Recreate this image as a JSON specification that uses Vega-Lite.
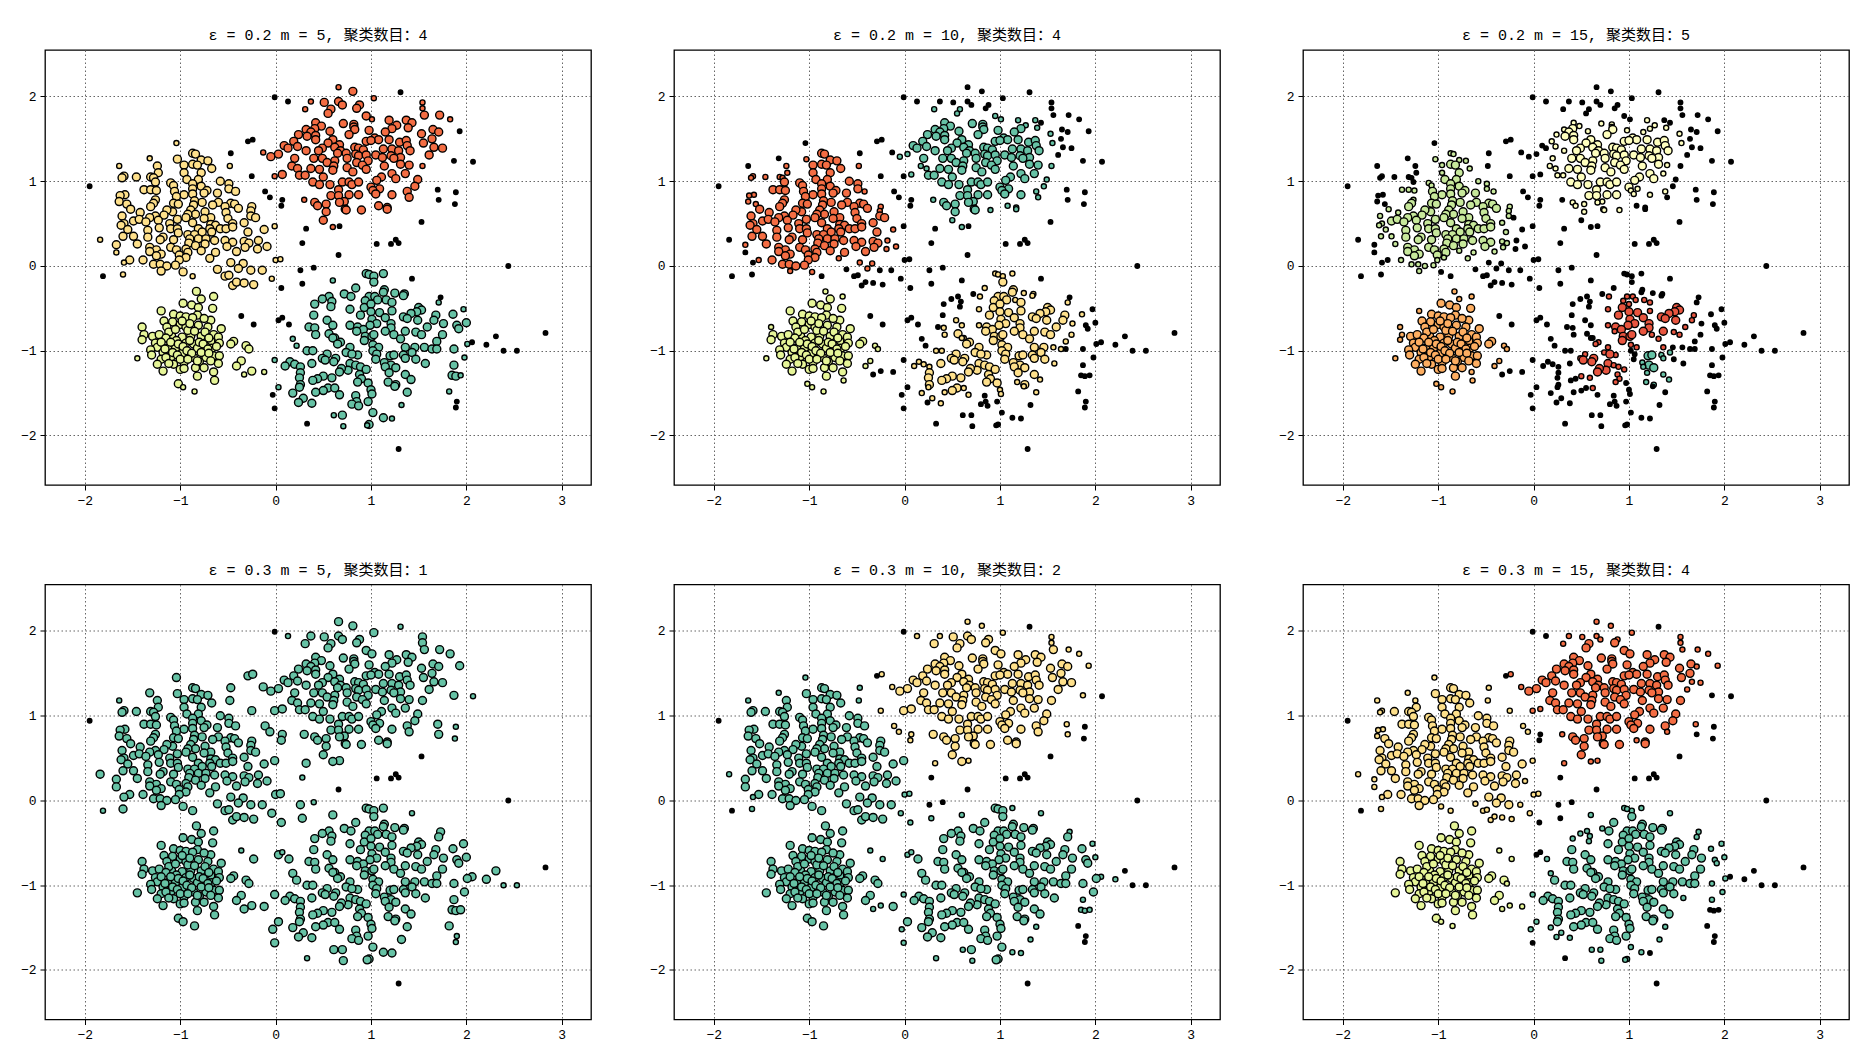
{"$schema":"https://vega.github.io/schema/vega-lite/v6.json","padding":{"left":19,"top":27,"right":0,"bottom":0},"background":"white","config":{"view":{"stroke":"black","strokeWidth":1.3},"axis":{"grid":true,"gridColor":"#666","gridDash":[1.5,2.5],"gridWidth":1,"domain":false,"tickColor":"black","tickSize":5,"labelFont":"Liberation Mono","labelFontSize":13,"labelColor":"black","title":null,"zindex":1,"labelPadding":4},"title":{"font":"Liberation Mono, Noto Sans CJK SC","fontSize":15,"fontWeight":"normal","color":"black","offset":7},"point":{"filled":true,"stroke":"black","strokeWidth":1.4,"opacity":1}},
"datasets":{"pts":[
{"x":-1.04,"y":1.45,"a":"y","b":"k","c":"k","d":"T","e":"t","f":"y"},
{"x":-0.87,"y":1.33,"a":"Y","b":"R","c":"l","d":"T","e":"T","f":"Y"},
{"x":-0.84,"y":1.32,"a":"Y","b":"R","c":"l","d":"T","e":"T","f":"Y"},
{"x":-1.32,"y":1.27,"a":"y","b":"k","c":"k","d":"T","e":"t","f":"y"},
{"x":-1.03,"y":1.26,"a":"Y","b":"r","c":"l","d":"T","e":"T","f":"Y"},
{"x":-0.78,"y":1.25,"a":"Y","b":"R","c":"l","d":"T","e":"T","f":"Y"},
{"x":-0.71,"y":1.24,"a":"Y","b":"R","c":"l","d":"T","e":"T","f":"Y"},
{"x":-1.64,"y":1.18,"a":"y","b":"k","c":"k","d":"t","e":"t","f":"y"},
{"x":-1.24,"y":1.18,"a":"Y","b":"r","c":"k","d":"T","e":"T","f":"y"},
{"x":-0.96,"y":1.19,"a":"Y","b":"R","c":"l","d":"T","e":"T","f":"Y"},
{"x":-0.87,"y":1.2,"a":"Y","b":"R","c":"L","d":"T","e":"T","f":"Y"},
{"x":-0.82,"y":1.19,"a":"Y","b":"R","c":"L","d":"T","e":"T","f":"Y"},
{"x":-0.67,"y":1.15,"a":"Y","b":"R","c":"l","d":"T","e":"T","f":"Y"},
{"x":-0.48,"y":1.18,"a":"y","b":"r","c":"k","d":"T","e":"t","f":"y"},
{"x":-1.23,"y":1.1,"a":"Y","b":"r","c":"k","d":"T","e":"T","f":"Y"},
{"x":-0.96,"y":1.1,"a":"Y","b":"R","c":"l","d":"T","e":"T","f":"Y"},
{"x":-0.78,"y":1.1,"a":"Y","b":"R","c":"L","d":"T","e":"T","f":"Y"},
{"x":-1.59,"y":1.06,"a":"Y","b":"r","c":"k","d":"T","e":"T","f":"y"},
{"x":-1.61,"y":1.04,"a":"Y","b":"r","c":"k","d":"T","e":"T","f":"y"},
{"x":-1.46,"y":1.05,"a":"Y","b":"r","c":"k","d":"T","e":"T","f":"Y"},
{"x":-1.31,"y":1.05,"a":"Y","b":"r","c":"k","d":"T","e":"T","f":"Y"},
{"x":-1.28,"y":1.04,"a":"Y","b":"r","c":"k","d":"T","e":"T","f":"Y"},
{"x":-0.93,"y":1.02,"a":"Y","b":"R","c":"L","d":"T","e":"T","f":"Y"},
{"x":-0.81,"y":1.02,"a":"Y","b":"R","c":"L","d":"T","e":"T","f":"Y"},
{"x":-0.58,"y":1.0,"a":"Y","b":"R","c":"l","d":"T","e":"T","f":"Y"},
{"x":-1.26,"y":0.99,"a":"Y","b":"R","c":"k","d":"T","e":"T","f":"Y"},
{"x":-1.1,"y":0.98,"a":"Y","b":"R","c":"l","d":"T","e":"T","f":"Y"},
{"x":-0.87,"y":0.97,"a":"Y","b":"R","c":"L","d":"T","e":"T","f":"Y"},
{"x":-0.49,"y":0.97,"a":"Y","b":"R","c":"l","d":"T","e":"T","f":"Y"},
{"x":-1.07,"y":0.95,"a":"Y","b":"R","c":"l","d":"T","e":"T","f":"Y"},
{"x":-0.78,"y":0.94,"a":"Y","b":"R","c":"L","d":"T","e":"T","f":"Y"},
{"x":-0.49,"y":0.91,"a":"Y","b":"R","c":"l","d":"T","e":"T","f":"Y"},
{"x":-1.38,"y":0.9,"a":"Y","b":"R","c":"l","d":"T","e":"T","f":"Y"},
{"x":-1.31,"y":0.9,"a":"Y","b":"R","c":"l","d":"T","e":"T","f":"Y"},
{"x":-1.25,"y":0.89,"a":"Y","b":"R","c":"l","d":"T","e":"T","f":"Y"},
{"x":-1.06,"y":0.88,"a":"Y","b":"R","c":"L","d":"T","e":"T","f":"Y"},
{"x":-0.87,"y":0.91,"a":"Y","b":"R","c":"L","d":"T","e":"T","f":"Y"},
{"x":-0.72,"y":0.89,"a":"Y","b":"R","c":"L","d":"T","e":"T","f":"Y"},
{"x":-0.42,"y":0.88,"a":"Y","b":"r","c":"l","d":"T","e":"T","f":"Y"},
{"x":-0.75,"y":0.86,"a":"Y","b":"R","c":"L","d":"T","e":"T","f":"Y"},
{"x":-0.87,"y":0.85,"a":"Y","b":"R","c":"L","d":"T","e":"T","f":"Y"},
{"x":-0.61,"y":0.86,"a":"Y","b":"R","c":"L","d":"T","e":"T","f":"Y"},
{"x":-1.58,"y":0.84,"a":"Y","b":"r","c":"k","d":"T","e":"T","f":"y"},
{"x":-1.63,"y":0.83,"a":"Y","b":"r","c":"k","d":"T","e":"T","f":"y"},
{"x":-0.96,"y":0.84,"a":"Y","b":"R","c":"L","d":"T","e":"T","f":"Y"},
{"x":-1.04,"y":0.82,"a":"Y","b":"R","c":"L","d":"T","e":"T","f":"Y"},
{"x":-1.64,"y":0.76,"a":"Y","b":"r","c":"k","d":"T","e":"T","f":"y"},
{"x":-1.26,"y":0.78,"a":"Y","b":"R","c":"l","d":"T","e":"T","f":"Y"},
{"x":-1.28,"y":0.74,"a":"Y","b":"R","c":"L","d":"T","e":"T","f":"Y"},
{"x":-1.56,"y":0.73,"a":"Y","b":"r","c":"k","d":"T","e":"T","f":"Y"},
{"x":-1.07,"y":0.74,"a":"Y","b":"R","c":"L","d":"T","e":"T","f":"Y"},
{"x":-1.02,"y":0.73,"a":"Y","b":"R","c":"L","d":"T","e":"T","f":"Y"},
{"x":-0.85,"y":0.77,"a":"Y","b":"R","c":"L","d":"T","e":"T","f":"Y"},
{"x":-0.77,"y":0.75,"a":"Y","b":"R","c":"L","d":"T","e":"T","f":"Y"},
{"x":-0.6,"y":0.75,"a":"Y","b":"R","c":"L","d":"T","e":"T","f":"Y"},
{"x":-0.47,"y":0.74,"a":"Y","b":"R","c":"L","d":"T","e":"T","f":"Y"},
{"x":-0.43,"y":0.73,"a":"Y","b":"R","c":"L","d":"T","e":"T","f":"Y"},
{"x":-0.86,"y":0.72,"a":"Y","b":"R","c":"L","d":"T","e":"T","f":"Y"},
{"x":-0.66,"y":0.72,"a":"Y","b":"R","c":"L","d":"T","e":"T","f":"Y"},
{"x":-1.31,"y":0.7,"a":"Y","b":"R","c":"L","d":"T","e":"T","f":"Y"},
{"x":-1.52,"y":0.67,"a":"Y","b":"R","c":"l","d":"T","e":"T","f":"Y"},
{"x":-0.53,"y":0.7,"a":"Y","b":"R","c":"L","d":"T","e":"T","f":"Y"},
{"x":-0.39,"y":0.68,"a":"Y","b":"R","c":"L","d":"T","e":"T","f":"Y"},
{"x":-0.25,"y":0.7,"a":"Y","b":"r","c":"l","d":"T","e":"T","f":"Y"},
{"x":-1.42,"y":0.63,"a":"Y","b":"R","c":"l","d":"T","e":"T","f":"Y"},
{"x":-1.08,"y":0.64,"a":"Y","b":"R","c":"L","d":"T","e":"T","f":"Y"},
{"x":-1.14,"y":0.66,"a":"Y","b":"R","c":"L","d":"T","e":"T","f":"Y"},
{"x":-0.89,"y":0.66,"a":"Y","b":"R","c":"L","d":"T","e":"T","f":"Y"},
{"x":-0.74,"y":0.64,"a":"Y","b":"R","c":"L","d":"T","e":"T","f":"Y"},
{"x":-0.26,"y":0.65,"a":"Y","b":"r","c":"l","d":"T","e":"T","f":"Y"},
{"x":-0.52,"y":0.63,"a":"Y","b":"R","c":"L","d":"T","e":"T","f":"Y"},
{"x":-1.61,"y":0.59,"a":"Y","b":"R","c":"l","d":"T","e":"T","f":"Y"},
{"x":-1.26,"y":0.59,"a":"Y","b":"R","c":"L","d":"T","e":"T","f":"Y"},
{"x":-1.17,"y":0.6,"a":"Y","b":"R","c":"L","d":"T","e":"T","f":"Y"},
{"x":-1.32,"y":0.57,"a":"Y","b":"R","c":"L","d":"T","e":"T","f":"Y"},
{"x":-0.84,"y":0.61,"a":"Y","b":"R","c":"L","d":"T","e":"T","f":"Y"},
{"x":-0.68,"y":0.57,"a":"Y","b":"R","c":"L","d":"T","e":"T","f":"Y"},
{"x":-0.92,"y":0.61,"a":"Y","b":"R","c":"L","d":"T","e":"T","f":"Y"},
{"x":-0.26,"y":0.59,"a":"Y","b":"R","c":"l","d":"T","e":"T","f":"Y"},
{"x":-0.21,"y":0.57,"a":"Y","b":"R","c":"k","d":"T","e":"T","f":"Y"},
{"x":-1.49,"y":0.53,"a":"Y","b":"R","c":"L","d":"T","e":"T","f":"Y"},
{"x":-1.43,"y":0.55,"a":"Y","b":"R","c":"L","d":"T","e":"T","f":"Y"},
{"x":-1.23,"y":0.54,"a":"Y","b":"R","c":"L","d":"T","e":"T","f":"Y"},
{"x":-1.03,"y":0.55,"a":"Y","b":"R","c":"L","d":"T","e":"T","f":"Y"},
{"x":-0.94,"y":0.57,"a":"Y","b":"R","c":"L","d":"T","e":"T","f":"Y"},
{"x":-0.75,"y":0.56,"a":"Y","b":"R","c":"L","d":"T","e":"T","f":"Y"},
{"x":-0.5,"y":0.56,"a":"Y","b":"R","c":"L","d":"T","e":"T","f":"Y"},
{"x":-1.36,"y":0.52,"a":"Y","b":"R","c":"L","d":"T","e":"T","f":"Y"},
{"x":-1.59,"y":0.5,"a":"Y","b":"R","c":"l","d":"T","e":"T","f":"Y"},
{"x":-1.62,"y":0.48,"a":"Y","b":"R","c":"l","d":"T","e":"T","f":"Y"},
{"x":-1.11,"y":0.5,"a":"Y","b":"R","c":"L","d":"T","e":"T","f":"Y"},
{"x":-0.87,"y":0.51,"a":"Y","b":"R","c":"L","d":"T","e":"T","f":"Y"},
{"x":-0.68,"y":0.49,"a":"Y","b":"R","c":"L","d":"T","e":"T","f":"Y"},
{"x":-0.45,"y":0.5,"a":"Y","b":"R","c":"L","d":"T","e":"T","f":"Y"},
{"x":-0.33,"y":0.51,"a":"Y","b":"R","c":"l","d":"T","e":"T","f":"Y"},
{"x":-0.63,"y":0.48,"a":"Y","b":"R","c":"L","d":"T","e":"T","f":"Y"},
{"x":-1.22,"y":0.45,"a":"Y","b":"R","c":"L","d":"T","e":"T","f":"Y"},
{"x":-1.1,"y":0.44,"a":"Y","b":"R","c":"L","d":"T","e":"T","f":"Y"},
{"x":-1.03,"y":0.44,"a":"Y","b":"R","c":"L","d":"T","e":"T","f":"Y"},
{"x":-0.81,"y":0.44,"a":"Y","b":"R","c":"L","d":"T","e":"T","f":"Y"},
{"x":-0.69,"y":0.44,"a":"Y","b":"R","c":"L","d":"T","e":"T","f":"Y"},
{"x":-0.58,"y":0.44,"a":"Y","b":"R","c":"L","d":"T","e":"T","f":"Y"},
{"x":-0.52,"y":0.44,"a":"Y","b":"R","c":"L","d":"T","e":"T","f":"Y"},
{"x":-0.45,"y":0.46,"a":"Y","b":"R","c":"L","d":"T","e":"T","f":"Y"},
{"x":-0.12,"y":0.43,"a":"Y","b":"r","c":"k","d":"T","e":"T","f":"Y"},
{"x":-1.55,"y":0.43,"a":"Y","b":"R","c":"l","d":"T","e":"T","f":"Y"},
{"x":-1.34,"y":0.42,"a":"Y","b":"R","c":"L","d":"T","e":"T","f":"Y"},
{"x":-0.29,"y":0.4,"a":"Y","b":"R","c":"l","d":"T","e":"T","f":"Y"},
{"x":-1.02,"y":0.39,"a":"Y","b":"R","c":"L","d":"T","e":"T","f":"Y"},
{"x":-0.77,"y":0.4,"a":"Y","b":"R","c":"L","d":"T","e":"T","f":"Y"},
{"x":-0.92,"y":0.37,"a":"Y","b":"R","c":"L","d":"T","e":"T","f":"Y"},
{"x":-0.67,"y":0.4,"a":"Y","b":"R","c":"L","d":"T","e":"T","f":"Y"},
{"x":-0.85,"y":0.37,"a":"Y","b":"R","c":"L","d":"T","e":"T","f":"Y"},
{"x":-1.6,"y":0.35,"a":"Y","b":"R","c":"l","d":"T","e":"T","f":"Y"},
{"x":-1.49,"y":0.35,"a":"Y","b":"R","c":"l","d":"T","e":"T","f":"Y"},
{"x":-1.34,"y":0.34,"a":"Y","b":"R","c":"L","d":"T","e":"T","f":"Y"},
{"x":-1.18,"y":0.34,"a":"Y","b":"R","c":"L","d":"T","e":"T","f":"Y"},
{"x":-1.21,"y":0.31,"a":"Y","b":"R","c":"L","d":"T","e":"T","f":"Y"},
{"x":-1.07,"y":0.31,"a":"Y","b":"R","c":"L","d":"T","e":"T","f":"Y"},
{"x":-0.9,"y":0.32,"a":"Y","b":"R","c":"L","d":"T","e":"T","f":"Y"},
{"x":-0.81,"y":0.32,"a":"Y","b":"R","c":"L","d":"T","e":"T","f":"Y"},
{"x":-0.73,"y":0.32,"a":"Y","b":"R","c":"L","d":"T","e":"T","f":"Y"},
{"x":-0.64,"y":0.3,"a":"Y","b":"R","c":"L","d":"T","e":"T","f":"Y"},
{"x":-0.53,"y":0.3,"a":"Y","b":"R","c":"L","d":"T","e":"T","f":"Y"},
{"x":-0.45,"y":0.28,"a":"Y","b":"R","c":"L","d":"T","e":"T","f":"Y"},
{"x":-0.33,"y":0.29,"a":"Y","b":"R","c":"l","d":"T","e":"T","f":"Y"},
{"x":-0.28,"y":0.27,"a":"Y","b":"R","c":"l","d":"T","e":"T","f":"Y"},
{"x":-0.18,"y":0.3,"a":"Y","b":"r","c":"k","d":"T","e":"T","f":"Y"},
{"x":-1.84,"y":0.31,"a":"y","b":"k","c":"k","d":"T","e":"t","f":"y"},
{"x":-0.91,"y":0.27,"a":"Y","b":"R","c":"L","d":"T","e":"T","f":"Y"},
{"x":-0.74,"y":0.26,"a":"Y","b":"R","c":"L","d":"T","e":"T","f":"Y"},
{"x":-1.67,"y":0.25,"a":"Y","b":"r","c":"k","d":"T","e":"T","f":"y"},
{"x":-1.45,"y":0.26,"a":"Y","b":"R","c":"l","d":"T","e":"T","f":"Y"},
{"x":-0.84,"y":0.24,"a":"Y","b":"R","c":"L","d":"T","e":"T","f":"Y"},
{"x":-1.32,"y":0.22,"a":"Y","b":"R","c":"L","d":"T","e":"T","f":"Y"},
{"x":-1.1,"y":0.22,"a":"Y","b":"R","c":"L","d":"T","e":"T","f":"Y"},
{"x":-0.51,"y":0.23,"a":"Y","b":"R","c":"L","d":"T","e":"T","f":"Y"},
{"x":-0.32,"y":0.22,"a":"Y","b":"R","c":"l","d":"T","e":"T","f":"Y"},
{"x":-0.09,"y":0.23,"a":"Y","b":"r","c":"k","d":"T","e":"T","f":"y"},
{"x":-0.19,"y":0.2,"a":"Y","b":"r","c":"k","d":"T","e":"T","f":"Y"},
{"x":-1.25,"y":0.19,"a":"Y","b":"R","c":"L","d":"T","e":"T","f":"Y"},
{"x":-1.04,"y":0.19,"a":"Y","b":"R","c":"L","d":"T","e":"T","f":"Y"},
{"x":-0.94,"y":0.2,"a":"Y","b":"R","c":"L","d":"T","e":"T","f":"Y"},
{"x":-0.41,"y":0.17,"a":"Y","b":"R","c":"l","d":"T","e":"T","f":"Y"},
{"x":-1.32,"y":0.17,"a":"Y","b":"R","c":"L","d":"T","e":"T","f":"Y"},
{"x":-0.78,"y":0.18,"a":"Y","b":"R","c":"l","d":"T","e":"T","f":"Y"},
{"x":-1.67,"y":0.16,"a":"y","b":"k","c":"k","d":"T","e":"T","f":"y"},
{"x":-0.63,"y":0.16,"a":"Y","b":"R","c":"l","d":"T","e":"T","f":"Y"},
{"x":-1.2,"y":0.14,"a":"Y","b":"R","c":"L","d":"T","e":"T","f":"Y"},
{"x":-1.01,"y":0.13,"a":"Y","b":"R","c":"L","d":"T","e":"T","f":"Y"},
{"x":-0.92,"y":0.16,"a":"Y","b":"R","c":"L","d":"T","e":"T","f":"Y"},
{"x":-1.25,"y":0.12,"a":"Y","b":"R","c":"L","d":"T","e":"T","f":"Y"},
{"x":-0.69,"y":0.09,"a":"Y","b":"r","c":"l","d":"T","e":"T","f":"Y"},
{"x":-0.94,"y":0.1,"a":"Y","b":"R","c":"l","d":"T","e":"T","f":"Y"},
{"x":-1.01,"y":0.07,"a":"Y","b":"R","c":"l","d":"T","e":"T","f":"Y"},
{"x":-1.53,"y":0.07,"a":"Y","b":"r","c":"k","d":"T","e":"T","f":"Y"},
{"x":-1.59,"y":0.04,"a":"y","b":"k","c":"k","d":"T","e":"t","f":"y"},
{"x":-1.39,"y":0.07,"a":"Y","b":"R","c":"l","d":"T","e":"T","f":"Y"},
{"x":0.0,"y":0.07,"a":"y","b":"k","c":"k","d":"T","e":"t","f":"y"},
{"x":0.05,"y":0.08,"a":"y","b":"k","c":"k","d":"T","e":"t","f":"y"},
{"x":-1.28,"y":0.02,"a":"Y","b":"R","c":"l","d":"T","e":"T","f":"Y"},
{"x":-1.21,"y":0.02,"a":"Y","b":"R","c":"l","d":"T","e":"T","f":"Y"},
{"x":-1.14,"y":0.0,"a":"Y","b":"R","c":"l","d":"T","e":"T","f":"Y"},
{"x":-1.05,"y":0.01,"a":"Y","b":"R","c":"l","d":"T","e":"T","f":"Y"},
{"x":-0.47,"y":0.04,"a":"Y","b":"r","c":"k","d":"T","e":"T","f":"Y"},
{"x":-0.34,"y":0.03,"a":"Y","b":"r","c":"k","d":"T","e":"T","f":"Y"},
{"x":-1.2,"y":-0.06,"a":"Y","b":"r","c":"l","d":"T","e":"T","f":"Y"},
{"x":-0.61,"y":-0.04,"a":"Y","b":"k","c":"k","d":"T","e":"T","f":"y"},
{"x":-0.39,"y":-0.03,"a":"Y","b":"r","c":"k","d":"T","e":"T","f":"Y"},
{"x":-0.26,"y":-0.05,"a":"Y","b":"k","c":"k","d":"T","e":"T","f":"Y"},
{"x":-0.14,"y":-0.05,"a":"Y","b":"k","c":"k","d":"T","e":"T","f":"y"},
{"x":-0.97,"y":-0.07,"a":"Y","b":"r","c":"k","d":"T","e":"T","f":"y"},
{"x":-1.6,"y":-0.1,"a":"y","b":"k","c":"k","d":"T","e":"t","f":"y"},
{"x":-0.87,"y":-0.12,"a":"y","b":"k","c":"k","d":"T","e":"T","f":"y"},
{"x":-0.04,"y":-0.15,"a":"y","b":"k","c":"k","d":"T","e":"t","f":"y"},
{"x":-0.53,"y":-0.12,"a":"Y","b":"k","c":"k","d":"T","e":"T","f":"y"},
{"x":-0.49,"y":-0.11,"a":"Y","b":"k","c":"k","d":"T","e":"T","f":"y"},
{"x":-0.45,"y":-0.23,"a":"Y","b":"k","c":"k","d":"T","e":"T","f":"y"},
{"x":-0.41,"y":-0.19,"a":"Y","b":"k","c":"k","d":"T","e":"T","f":"y"},
{"x":-0.33,"y":-0.2,"a":"Y","b":"k","c":"k","d":"T","e":"T","f":"y"},
{"x":-0.23,"y":-0.22,"a":"Y","b":"k","c":"k","d":"T","e":"T","f":"y"},
{"x":-1.95,"y":0.94,"a":"k","b":"k","c":"k","d":"k","e":"k","f":"k"},
{"x":-1.81,"y":-0.12,"a":"k","b":"k","c":"k","d":"t","e":"k","f":"k"},
{"x":-0.01,"y":1.99,"a":"k","b":"k","c":"k","d":"k","e":"k","f":"k"},
{"x":0.13,"y":1.94,"a":"k","b":"k","c":"k","d":"t","e":"y","f":"k"},
{"x":-0.29,"y":1.47,"a":"k","b":"k","c":"k","d":"T","e":"k","f":"k"},
{"x":-0.24,"y":1.49,"a":"k","b":"k","c":"k","d":"T","e":"y","f":"r"},
{"x":-0.47,"y":1.33,"a":"k","b":"k","c":"k","d":"T","e":"t","f":"y"},
{"x":-0.25,"y":1.06,"a":"k","b":"k","c":"k","d":"T","e":"y","f":"y"},
{"x":-0.11,"y":0.88,"a":"k","b":"k","c":"k","d":"T","e":"y","f":"y"},
{"x":-0.06,"y":0.81,"a":"k","b":"k","c":"k","d":"T","e":"y","f":"y"},
{"x":0.07,"y":0.78,"a":"k","b":"k","c":"k","d":"T","e":"y","f":"k"},
{"x":0.06,"y":0.71,"a":"k","b":"k","c":"k","d":"T","e":"y","f":"k"},
{"x":-0.01,"y":0.47,"a":"y","b":"k","c":"k","d":"T","e":"T","f":"y"},
{"x":0.32,"y":0.44,"a":"k","b":"k","c":"k","d":"T","e":"y","f":"r"},
{"x":0.28,"y":0.27,"a":"k","b":"k","c":"k","d":"t","e":"k","f":"k"},
{"x":0.67,"y":0.47,"a":"k","b":"k","c":"k","d":"T","e":"y","f":"r"},
{"x":0.66,"y":0.13,"a":"k","b":"k","c":"k","d":"k","e":"k","f":"k"},
{"x":1.06,"y":0.26,"a":"k","b":"k","c":"k","d":"k","e":"k","f":"k"},
{"x":1.21,"y":0.26,"a":"k","b":"k","c":"k","d":"k","e":"k","f":"k"},
{"x":1.26,"y":0.31,"a":"k","b":"k","c":"k","d":"k","e":"k","f":"k"},
{"x":1.29,"y":0.27,"a":"k","b":"k","c":"k","d":"k","e":"k","f":"k"},
{"x":1.53,"y":0.52,"a":"k","b":"k","c":"k","d":"k","e":"k","f":"k"},
{"x":0.4,"y":-0.02,"a":"k","b":"k","c":"k","d":"t","e":"k","f":"k"},
{"x":0.26,"y":-0.05,"a":"k","b":"k","c":"k","d":"T","e":"k","f":"k"},
{"x":0.28,"y":-0.21,"a":"k","b":"k","c":"k","d":"T","e":"t","f":"k"},
{"x":0.06,"y":-0.26,"a":"k","b":"k","c":"k","d":"T","e":"t","f":"k"},
{"x":1.43,"y":-0.15,"a":"k","b":"k","c":"k","d":"t","e":"t","f":"t"},
{"x":2.44,"y":0.0,"a":"k","b":"k","c":"k","d":"k","e":"k","f":"k"},
{"x":2.83,"y":-0.79,"a":"k","b":"k","c":"k","d":"k","e":"k","f":"k"},
{"x":2.53,"y":-1.0,"a":"k","b":"k","c":"k","d":"t","e":"k","f":"k"},
{"x":2.39,"y":-1.0,"a":"k","b":"k","c":"k","d":"t","e":"k","f":"k"},
{"x":2.31,"y":-0.83,"a":"k","b":"k","c":"k","d":"T","e":"k","f":"k"},
{"x":2.21,"y":-0.93,"a":"k","b":"k","c":"k","d":"T","e":"t","f":"k"},
{"x":2.06,"y":-0.9,"a":"k","b":"k","c":"k","d":"T","e":"t","f":"k"},
{"x":1.29,"y":-2.16,"a":"k","b":"k","c":"k","d":"k","e":"k","f":"k"},
{"x":2.07,"y":1.23,"a":"k","b":"k","c":"k","d":"t","e":"k","f":"k"},
{"x":1.87,"y":1.24,"a":"k","b":"k","c":"k","d":"T","e":"y","f":"k"},
{"x":1.93,"y":1.59,"a":"k","b":"k","c":"k","d":"T","e":"y","f":"r"},
{"x":1.31,"y":2.05,"a":"k","b":"k","c":"k","d":"t","e":"k","f":"k"},
{"x":1.7,"y":0.9,"a":"k","b":"k","c":"k","d":"T","e":"y","f":"r"},
{"x":1.71,"y":0.78,"a":"k","b":"k","c":"k","d":"T","e":"y","f":"k"},
{"x":1.89,"y":0.87,"a":"k","b":"k","c":"k","d":"t","e":"k","f":"k"},
{"x":1.88,"y":0.73,"a":"k","b":"k","c":"k","d":"t","e":"k","f":"k"},
{"x":-0.36,"y":-0.59,"a":"k","b":"k","c":"k","d":"t","e":"t","f":"g"},
{"x":-0.23,"y":-0.69,"a":"k","b":"k","c":"k","d":"T","e":"t","f":"g"},
{"x":0.03,"y":-0.64,"a":"k","b":"k","c":"k","d":"T","e":"t","f":"k"},
{"x":0.07,"y":-0.61,"a":"k","b":"k","c":"k","d":"t","e":"t","f":"k"},
{"x":0.14,"y":-0.69,"a":"k","b":"k","c":"k","d":"T","e":"T","f":"t"},
{"x":1.73,"y":-0.37,"a":"k","b":"k","c":"k","d":"T","e":"t","f":"t"},
{"x":1.71,"y":-0.43,"a":"t","b":"y","c":"k","d":"T","e":"T","f":"t"},
{"x":0.33,"y":-1.86,"a":"k","b":"k","c":"k","d":"t","e":"t","f":"k"},
{"x":-0.03,"y":-1.52,"a":"k","b":"k","c":"k","d":"T","e":"t","f":"t"},
{"x":-0.01,"y":-1.68,"a":"k","b":"k","c":"k","d":"T","e":"t","f":"k"},
{"x":1.9,"y":-1.6,"a":"k","b":"k","c":"k","d":"t","e":"k","f":"k"},
{"x":1.89,"y":-1.67,"a":"k","b":"k","c":"k","d":"t","e":"k","f":"k"},
{"x":0.66,"y":2.11,"a":"r","b":"k","c":"k","d":"T","e":"y","f":"r"},
{"x":0.81,"y":2.06,"a":"R","b":"k","c":"k","d":"T","e":"y","f":"r"},
{"x":1.03,"y":1.98,"a":"r","b":"k","c":"k","d":"T","e":"y","f":"r"},
{"x":0.37,"y":1.94,"a":"r","b":"k","c":"k","d":"T","e":"y","f":"r"},
{"x":0.51,"y":1.93,"a":"R","b":"k","c":"k","d":"T","e":"Y","f":"r"},
{"x":0.66,"y":1.94,"a":"R","b":"k","c":"k","d":"T","e":"Y","f":"r"},
{"x":0.7,"y":1.9,"a":"R","b":"k","c":"k","d":"T","e":"Y","f":"r"},
{"x":0.88,"y":1.9,"a":"R","b":"k","c":"k","d":"T","e":"Y","f":"r"},
{"x":0.85,"y":1.86,"a":"R","b":"k","c":"k","d":"T","e":"Y","f":"R"},
{"x":1.54,"y":1.93,"a":"r","b":"k","c":"k","d":"T","e":"y","f":"r"},
{"x":1.54,"y":1.86,"a":"r","b":"k","c":"k","d":"T","e":"y","f":"r"},
{"x":0.31,"y":1.85,"a":"r","b":"t","c":"k","d":"T","e":"Y","f":"r"},
{"x":0.58,"y":1.85,"a":"R","b":"t","c":"k","d":"T","e":"Y","f":"R"},
{"x":0.55,"y":1.8,"a":"R","b":"t","c":"k","d":"T","e":"Y","f":"R"},
{"x":1.56,"y":1.78,"a":"R","b":"k","c":"k","d":"T","e":"Y","f":"r"},
{"x":1.72,"y":1.78,"a":"R","b":"k","c":"k","d":"T","e":"y","f":"r"},
{"x":0.95,"y":1.77,"a":"R","b":"t","c":"k","d":"T","e":"Y","f":"R"},
{"x":1.01,"y":1.73,"a":"r","b":"t","c":"k","d":"T","e":"Y","f":"R"},
{"x":1.19,"y":1.72,"a":"R","b":"t","c":"p","d":"T","e":"Y","f":"R"},
{"x":1.83,"y":1.73,"a":"r","b":"k","c":"k","d":"T","e":"y","f":"r"},
{"x":1.37,"y":1.72,"a":"R","b":"t","c":"k","d":"T","e":"Y","f":"R"},
{"x":1.43,"y":1.69,"a":"R","b":"k","c":"k","d":"T","e":"Y","f":"R"},
{"x":0.42,"y":1.69,"a":"R","b":"T","c":"p","d":"T","e":"Y","f":"R"},
{"x":0.71,"y":1.68,"a":"R","b":"T","c":"p","d":"T","e":"Y","f":"R"},
{"x":0.82,"y":1.67,"a":"R","b":"T","c":"p","d":"T","e":"Y","f":"R"},
{"x":0.82,"y":1.64,"a":"R","b":"T","c":"p","d":"T","e":"Y","f":"R"},
{"x":1.27,"y":1.66,"a":"R","b":"t","c":"p","d":"T","e":"Y","f":"R"},
{"x":0.48,"y":1.65,"a":"R","b":"T","c":"p","d":"T","e":"Y","f":"R"},
{"x":1.39,"y":1.63,"a":"R","b":"t","c":"p","d":"T","e":"Y","f":"R"},
{"x":0.32,"y":1.61,"a":"R","b":"T","c":"p","d":"T","e":"Y","f":"R"},
{"x":1.22,"y":1.62,"a":"R","b":"T","c":"p","d":"T","e":"Y","f":"R"},
{"x":0.41,"y":1.62,"a":"R","b":"T","c":"P","d":"T","e":"Y","f":"R"},
{"x":0.83,"y":1.61,"a":"R","b":"T","c":"P","d":"T","e":"Y","f":"R"},
{"x":0.98,"y":1.6,"a":"R","b":"T","c":"p","d":"T","e":"Y","f":"R"},
{"x":1.65,"y":1.61,"a":"R","b":"k","c":"k","d":"T","e":"Y","f":"R"},
{"x":1.15,"y":1.58,"a":"R","b":"T","c":"p","d":"T","e":"Y","f":"R"},
{"x":0.37,"y":1.58,"a":"R","b":"T","c":"P","d":"T","e":"Y","f":"R"},
{"x":1.71,"y":1.58,"a":"R","b":"k","c":"k","d":"T","e":"Y","f":"r"},
{"x":0.57,"y":1.59,"a":"R","b":"T","c":"p","d":"T","e":"Y","f":"R"},
{"x":0.24,"y":1.55,"a":"R","b":"T","c":"p","d":"T","e":"Y","f":"R"},
{"x":0.33,"y":1.53,"a":"R","b":"T","c":"P","d":"T","e":"Y","f":"R"},
{"x":0.42,"y":1.54,"a":"R","b":"T","c":"P","d":"T","e":"Y","f":"R"},
{"x":0.77,"y":1.55,"a":"R","b":"T","c":"P","d":"T","e":"Y","f":"R"},
{"x":1.53,"y":1.56,"a":"R","b":"t","c":"p","d":"T","e":"Y","f":"R"},
{"x":0.42,"y":1.49,"a":"R","b":"T","c":"P","d":"T","e":"Y","f":"R"},
{"x":0.6,"y":1.49,"a":"R","b":"T","c":"P","d":"T","e":"Y","f":"R"},
{"x":1.19,"y":1.49,"a":"R","b":"T","c":"P","d":"T","e":"Y","f":"R"},
{"x":1.04,"y":1.51,"a":"R","b":"T","c":"P","d":"T","e":"Y","f":"R"},
{"x":1.08,"y":1.49,"a":"R","b":"T","c":"P","d":"T","e":"Y","f":"R"},
{"x":1.64,"y":1.5,"a":"R","b":"k","c":"k","d":"T","e":"Y","f":"R"},
{"x":0.19,"y":1.47,"a":"R","b":"T","c":"p","d":"T","e":"Y","f":"R"},
{"x":0.95,"y":1.47,"a":"R","b":"T","c":"P","d":"T","e":"Y","f":"R"},
{"x":1.0,"y":1.48,"a":"R","b":"T","c":"P","d":"T","e":"Y","f":"R"},
{"x":1.3,"y":1.46,"a":"R","b":"T","c":"P","d":"T","e":"Y","f":"R"},
{"x":1.37,"y":1.48,"a":"R","b":"T","c":"P","d":"T","e":"Y","f":"R"},
{"x":0.55,"y":1.45,"a":"R","b":"T","c":"P","d":"T","e":"Y","f":"R"},
{"x":1.55,"y":1.45,"a":"R","b":"t","c":"p","d":"T","e":"Y","f":"R"},
{"x":0.67,"y":1.43,"a":"R","b":"T","c":"P","d":"T","e":"Y","f":"R"},
{"x":0.09,"y":1.42,"a":"R","b":"T","c":"k","d":"T","e":"Y","f":"R"},
{"x":0.62,"y":1.4,"a":"R","b":"T","c":"P","d":"T","e":"Y","f":"R"},
{"x":0.23,"y":1.41,"a":"R","b":"T","c":"p","d":"T","e":"Y","f":"R"},
{"x":0.83,"y":1.4,"a":"R","b":"T","c":"P","d":"T","e":"Y","f":"R"},
{"x":1.38,"y":1.42,"a":"R","b":"T","c":"P","d":"T","e":"Y","f":"R"},
{"x":1.66,"y":1.4,"a":"R","b":"k","c":"k","d":"T","e":"Y","f":"r"},
{"x":1.75,"y":1.39,"a":"R","b":"k","c":"k","d":"T","e":"Y","f":"r"},
{"x":0.49,"y":1.39,"a":"R","b":"T","c":"P","d":"T","e":"Y","f":"R"},
{"x":0.13,"y":1.39,"a":"R","b":"T","c":"k","d":"T","e":"Y","f":"R"},
{"x":0.87,"y":1.39,"a":"R","b":"T","c":"P","d":"T","e":"Y","f":"R"},
{"x":0.92,"y":1.37,"a":"R","b":"T","c":"P","d":"T","e":"Y","f":"R"},
{"x":1.13,"y":1.38,"a":"R","b":"T","c":"P","d":"T","e":"Y","f":"R"},
{"x":1.22,"y":1.38,"a":"R","b":"T","c":"P","d":"T","e":"Y","f":"R"},
{"x":1.29,"y":1.36,"a":"R","b":"T","c":"P","d":"T","e":"Y","f":"R"},
{"x":0.32,"y":1.36,"a":"R","b":"T","c":"p","d":"T","e":"Y","f":"R"},
{"x":0.45,"y":1.36,"a":"R","b":"T","c":"P","d":"T","e":"Y","f":"R"},
{"x":-0.13,"y":1.34,"a":"r","b":"k","c":"k","d":"T","e":"y","f":"r"},
{"x":0.68,"y":1.36,"a":"R","b":"T","c":"P","d":"T","e":"Y","f":"R"},
{"x":1.41,"y":1.36,"a":"R","b":"T","c":"P","d":"T","e":"Y","f":"R"},
{"x":-0.05,"y":1.29,"a":"R","b":"t","c":"k","d":"T","e":"Y","f":"R"},
{"x":0.03,"y":1.32,"a":"R","b":"t","c":"k","d":"T","e":"Y","f":"R"},
{"x":1.61,"y":1.31,"a":"R","b":"k","c":"k","d":"T","e":"Y","f":"r"},
{"x":1.05,"y":1.31,"a":"R","b":"T","c":"P","d":"T","e":"Y","f":"R"},
{"x":0.65,"y":1.33,"a":"R","b":"T","c":"P","d":"T","e":"Y","f":"R"},
{"x":0.74,"y":1.33,"a":"R","b":"T","c":"P","d":"T","e":"Y","f":"R"},
{"x":0.84,"y":1.32,"a":"R","b":"T","c":"P","d":"T","e":"Y","f":"R"},
{"x":1.21,"y":1.3,"a":"R","b":"T","c":"P","d":"T","e":"Y","f":"R"},
{"x":1.31,"y":1.28,"a":"R","b":"T","c":"P","d":"T","e":"Y","f":"R"},
{"x":0.2,"y":1.27,"a":"R","b":"T","c":"p","d":"T","e":"Y","f":"R"},
{"x":0.4,"y":1.27,"a":"R","b":"T","c":"P","d":"T","e":"Y","f":"R"},
{"x":0.49,"y":1.27,"a":"R","b":"T","c":"P","d":"T","e":"Y","f":"R"},
{"x":0.87,"y":1.3,"a":"R","b":"T","c":"P","d":"T","e":"Y","f":"R"},
{"x":0.95,"y":1.31,"a":"R","b":"T","c":"P","d":"T","e":"Y","f":"R"},
{"x":1.12,"y":1.28,"a":"R","b":"T","c":"P","d":"T","e":"Y","f":"R"},
{"x":1.24,"y":1.27,"a":"R","b":"T","c":"P","d":"T","e":"Y","f":"R"},
{"x":0.62,"y":1.24,"a":"R","b":"T","c":"P","d":"T","e":"Y","f":"R"},
{"x":0.75,"y":1.27,"a":"R","b":"T","c":"P","d":"T","e":"Y","f":"R"},
{"x":0.54,"y":1.22,"a":"R","b":"T","c":"P","d":"T","e":"Y","f":"R"},
{"x":0.97,"y":1.24,"a":"R","b":"T","c":"P","d":"T","e":"Y","f":"R"},
{"x":0.85,"y":1.22,"a":"R","b":"T","c":"P","d":"T","e":"Y","f":"R"},
{"x":0.91,"y":1.19,"a":"R","b":"T","c":"P","d":"T","e":"Y","f":"R"},
{"x":1.31,"y":1.2,"a":"R","b":"T","c":"P","d":"T","e":"Y","f":"R"},
{"x":1.14,"y":1.18,"a":"R","b":"T","c":"P","d":"T","e":"Y","f":"R"},
{"x":1.4,"y":1.19,"a":"R","b":"T","c":"p","d":"T","e":"Y","f":"R"},
{"x":1.54,"y":1.18,"a":"r","b":"t","c":"k","d":"T","e":"Y","f":"R"},
{"x":0.17,"y":1.18,"a":"R","b":"t","c":"p","d":"T","e":"Y","f":"R"},
{"x":0.75,"y":1.16,"a":"R","b":"T","c":"P","d":"T","e":"Y","f":"R"},
{"x":0.61,"y":1.18,"a":"R","b":"T","c":"P","d":"T","e":"Y","f":"R"},
{"x":0.23,"y":1.15,"a":"R","b":"t","c":"p","d":"T","e":"Y","f":"R"},
{"x":0.37,"y":1.15,"a":"R","b":"T","c":"P","d":"T","e":"Y","f":"R"},
{"x":0.46,"y":1.14,"a":"R","b":"T","c":"P","d":"T","e":"Y","f":"R"},
{"x":0.6,"y":1.13,"a":"R","b":"T","c":"P","d":"T","e":"Y","f":"R"},
{"x":0.95,"y":1.14,"a":"R","b":"T","c":"P","d":"T","e":"Y","f":"R"},
{"x":0.81,"y":1.11,"a":"R","b":"T","c":"P","d":"T","e":"Y","f":"R"},
{"x":1.22,"y":1.09,"a":"R","b":"T","c":"P","d":"T","e":"Y","f":"R"},
{"x":-0.01,"y":1.06,"a":"r","b":"k","c":"k","d":"T","e":"Y","f":"r"},
{"x":0.07,"y":1.08,"a":"R","b":"t","c":"k","d":"T","e":"Y","f":"r"},
{"x":0.25,"y":1.07,"a":"R","b":"T","c":"p","d":"T","e":"Y","f":"R"},
{"x":0.31,"y":1.07,"a":"R","b":"T","c":"p","d":"T","e":"Y","f":"R"},
{"x":0.5,"y":1.05,"a":"R","b":"T","c":"P","d":"T","e":"Y","f":"R"},
{"x":1.36,"y":1.09,"a":"R","b":"T","c":"p","d":"T","e":"Y","f":"R"},
{"x":1.11,"y":1.05,"a":"R","b":"T","c":"P","d":"T","e":"Y","f":"R"},
{"x":1.26,"y":1.03,"a":"R","b":"T","c":"P","d":"T","e":"Y","f":"R"},
{"x":1.06,"y":1.01,"a":"R","b":"T","c":"P","d":"T","e":"Y","f":"R"},
{"x":1.49,"y":1.02,"a":"R","b":"t","c":"k","d":"T","e":"Y","f":"R"},
{"x":0.39,"y":0.99,"a":"R","b":"T","c":"P","d":"T","e":"Y","f":"R"},
{"x":0.46,"y":0.96,"a":"R","b":"T","c":"P","d":"T","e":"Y","f":"R"},
{"x":0.57,"y":0.96,"a":"R","b":"T","c":"P","d":"T","e":"Y","f":"R"},
{"x":0.7,"y":0.99,"a":"R","b":"T","c":"P","d":"T","e":"Y","f":"R"},
{"x":0.77,"y":0.99,"a":"R","b":"T","c":"P","d":"T","e":"Y","f":"R"},
{"x":0.8,"y":0.96,"a":"R","b":"T","c":"P","d":"T","e":"Y","f":"R"},
{"x":0.87,"y":0.99,"a":"R","b":"T","c":"P","d":"T","e":"Y","f":"R"},
{"x":1.46,"y":0.94,"a":"R","b":"t","c":"k","d":"T","e":"Y","f":"R"},
{"x":1.0,"y":0.93,"a":"R","b":"T","c":"P","d":"T","e":"Y","f":"R"},
{"x":1.09,"y":0.91,"a":"R","b":"T","c":"p","d":"T","e":"Y","f":"R"},
{"x":1.38,"y":0.88,"a":"R","b":"t","c":"p","d":"T","e":"Y","f":"R"},
{"x":0.66,"y":0.9,"a":"R","b":"T","c":"P","d":"T","e":"Y","f":"R"},
{"x":1.02,"y":0.89,"a":"R","b":"T","c":"p","d":"T","e":"Y","f":"R"},
{"x":1.05,"y":0.85,"a":"R","b":"T","c":"p","d":"T","e":"Y","f":"R"},
{"x":0.58,"y":0.83,"a":"R","b":"T","c":"P","d":"T","e":"Y","f":"R"},
{"x":0.66,"y":0.83,"a":"R","b":"T","c":"P","d":"T","e":"Y","f":"R"},
{"x":0.77,"y":0.84,"a":"R","b":"T","c":"P","d":"T","e":"Y","f":"R"},
{"x":0.87,"y":0.84,"a":"R","b":"T","c":"P","d":"T","e":"Y","f":"R"},
{"x":1.22,"y":0.84,"a":"R","b":"T","c":"p","d":"T","e":"Y","f":"R"},
{"x":1.4,"y":0.81,"a":"R","b":"t","c":"k","d":"T","e":"Y","f":"r"},
{"x":0.72,"y":0.76,"a":"R","b":"T","c":"p","d":"T","e":"Y","f":"R"},
{"x":0.67,"y":0.75,"a":"R","b":"T","c":"p","d":"T","e":"Y","f":"R"},
{"x":0.3,"y":0.78,"a":"r","b":"t","c":"k","d":"T","e":"Y","f":"r"},
{"x":0.41,"y":0.75,"a":"R","b":"T","c":"p","d":"T","e":"Y","f":"R"},
{"x":0.44,"y":0.71,"a":"R","b":"T","c":"p","d":"T","e":"Y","f":"R"},
{"x":0.53,"y":0.73,"a":"R","b":"T","c":"p","d":"T","e":"Y","f":"R"},
{"x":1.08,"y":0.71,"a":"R","b":"t","c":"k","d":"T","e":"Y","f":"r"},
{"x":1.17,"y":0.69,"a":"R","b":"t","c":"k","d":"T","e":"Y","f":"R"},
{"x":1.17,"y":0.67,"a":"R","b":"t","c":"k","d":"T","e":"Y","f":"R"},
{"x":0.53,"y":0.64,"a":"R","b":"T","c":"p","d":"T","e":"Y","f":"R"},
{"x":0.73,"y":0.67,"a":"R","b":"T","c":"p","d":"T","e":"Y","f":"R"},
{"x":0.74,"y":0.66,"a":"R","b":"T","c":"p","d":"T","e":"Y","f":"R"},
{"x":0.9,"y":0.66,"a":"R","b":"t","c":"p","d":"T","e":"Y","f":"R"},
{"x":0.5,"y":0.54,"a":"R","b":"t","c":"k","d":"T","e":"Y","f":"R"},
{"x":0.6,"y":0.46,"a":"r","b":"t","c":"k","d":"T","e":"Y","f":"r"},
{"x":-0.83,"y":-0.3,"a":"G","b":"g","c":"o","d":"T","e":"T","f":"G"},
{"x":-0.78,"y":-0.39,"a":"G","b":"G","c":"o","d":"T","e":"T","f":"G"},
{"x":-0.65,"y":-0.36,"a":"G","b":"g","c":"o","d":"T","e":"T","f":"G"},
{"x":-0.97,"y":-0.44,"a":"G","b":"G","c":"O","d":"T","e":"T","f":"G"},
{"x":-0.88,"y":-0.46,"a":"G","b":"G","c":"O","d":"T","e":"T","f":"G"},
{"x":-0.81,"y":-0.49,"a":"G","b":"G","c":"O","d":"T","e":"T","f":"G"},
{"x":-0.66,"y":-0.5,"a":"G","b":"G","c":"O","d":"T","e":"T","f":"G"},
{"x":-1.2,"y":-0.53,"a":"G","b":"G","c":"o","d":"T","e":"T","f":"G"},
{"x":-1.07,"y":-0.57,"a":"G","b":"G","c":"O","d":"T","e":"T","f":"G"},
{"x":-1.0,"y":-0.59,"a":"G","b":"G","c":"O","d":"T","e":"T","f":"G"},
{"x":-0.94,"y":-0.6,"a":"G","b":"G","c":"O","d":"T","e":"T","f":"G"},
{"x":-0.82,"y":-0.58,"a":"G","b":"G","c":"O","d":"T","e":"T","f":"G"},
{"x":-0.68,"y":-0.64,"a":"G","b":"G","c":"O","d":"T","e":"T","f":"G"},
{"x":-0.87,"y":-0.61,"a":"G","b":"G","c":"O","d":"T","e":"T","f":"G"},
{"x":-1.17,"y":-0.65,"a":"G","b":"G","c":"O","d":"T","e":"T","f":"G"},
{"x":-1.08,"y":-0.66,"a":"G","b":"G","c":"O","d":"T","e":"T","f":"G"},
{"x":-1.0,"y":-0.69,"a":"G","b":"G","c":"O","d":"T","e":"T","f":"G"},
{"x":-0.81,"y":-0.7,"a":"G","b":"G","c":"O","d":"T","e":"T","f":"G"},
{"x":-1.4,"y":-0.72,"a":"G","b":"g","c":"o","d":"T","e":"T","f":"G"},
{"x":-0.71,"y":-0.72,"a":"G","b":"G","c":"O","d":"T","e":"T","f":"G"},
{"x":-1.14,"y":-0.72,"a":"G","b":"G","c":"O","d":"T","e":"T","f":"G"},
{"x":-0.57,"y":-0.74,"a":"G","b":"G","c":"O","d":"T","e":"T","f":"G"},
{"x":-0.94,"y":-0.72,"a":"G","b":"G","c":"O","d":"T","e":"T","f":"G"},
{"x":-1.38,"y":-0.81,"a":"G","b":"G","c":"o","d":"T","e":"T","f":"G"},
{"x":-1.29,"y":-0.83,"a":"G","b":"G","c":"O","d":"T","e":"T","f":"G"},
{"x":-1.22,"y":-0.81,"a":"G","b":"G","c":"O","d":"T","e":"T","f":"G"},
{"x":-1.09,"y":-0.83,"a":"G","b":"G","c":"O","d":"T","e":"T","f":"G"},
{"x":-0.98,"y":-0.84,"a":"G","b":"G","c":"O","d":"T","e":"T","f":"G"},
{"x":-0.89,"y":-0.83,"a":"G","b":"G","c":"O","d":"T","e":"T","f":"G"},
{"x":-0.78,"y":-0.83,"a":"G","b":"G","c":"O","d":"T","e":"T","f":"G"},
{"x":-0.65,"y":-0.81,"a":"G","b":"G","c":"O","d":"T","e":"T","f":"G"},
{"x":-0.6,"y":-0.84,"a":"G","b":"G","c":"O","d":"T","e":"T","f":"G"},
{"x":-1.4,"y":-0.87,"a":"G","b":"G","c":"o","d":"T","e":"T","f":"G"},
{"x":-1.26,"y":-0.91,"a":"G","b":"G","c":"O","d":"T","e":"T","f":"G"},
{"x":-1.04,"y":-0.88,"a":"G","b":"G","c":"O","d":"T","e":"T","f":"G"},
{"x":-0.94,"y":-0.91,"a":"G","b":"G","c":"O","d":"T","e":"T","f":"G"},
{"x":-0.68,"y":-0.89,"a":"G","b":"G","c":"O","d":"T","e":"T","f":"G"},
{"x":-0.86,"y":-0.92,"a":"G","b":"G","c":"O","d":"T","e":"T","f":"G"},
{"x":-0.59,"y":-0.91,"a":"G","b":"G","c":"O","d":"T","e":"T","f":"G"},
{"x":-0.44,"y":-0.89,"a":"G","b":"G","c":"O","d":"T","e":"T","f":"G"},
{"x":-0.47,"y":-0.92,"a":"G","b":"G","c":"O","d":"T","e":"T","f":"G"},
{"x":-0.31,"y":-0.94,"a":"G","b":"g","c":"o","d":"T","e":"T","f":"G"},
{"x":-0.28,"y":-0.98,"a":"G","b":"g","c":"o","d":"T","e":"T","f":"g"},
{"x":-1.24,"y":-0.96,"a":"G","b":"G","c":"O","d":"T","e":"T","f":"G"},
{"x":-1.13,"y":-0.97,"a":"G","b":"G","c":"O","d":"T","e":"T","f":"G"},
{"x":-1.05,"y":-0.97,"a":"G","b":"G","c":"O","d":"T","e":"T","f":"G"},
{"x":-0.82,"y":-0.97,"a":"G","b":"G","c":"O","d":"T","e":"T","f":"G"},
{"x":-0.73,"y":-0.95,"a":"G","b":"G","c":"O","d":"T","e":"T","f":"G"},
{"x":-0.67,"y":-0.97,"a":"G","b":"G","c":"O","d":"T","e":"T","f":"G"},
{"x":-1.31,"y":-0.99,"a":"G","b":"G","c":"O","d":"T","e":"T","f":"G"},
{"x":-1.18,"y":-1.02,"a":"G","b":"G","c":"O","d":"T","e":"T","f":"G"},
{"x":-0.98,"y":-1.03,"a":"G","b":"G","c":"O","d":"T","e":"T","f":"G"},
{"x":-1.3,"y":-1.05,"a":"G","b":"G","c":"O","d":"T","e":"T","f":"G"},
{"x":-1.45,"y":-1.09,"a":"g","b":"g","c":"o","d":"T","e":"T","f":"G"},
{"x":-1.2,"y":-1.1,"a":"G","b":"G","c":"O","d":"T","e":"T","f":"G"},
{"x":-1.1,"y":-1.08,"a":"G","b":"G","c":"O","d":"T","e":"T","f":"G"},
{"x":-0.86,"y":-1.08,"a":"G","b":"G","c":"O","d":"T","e":"T","f":"G"},
{"x":-0.73,"y":-1.08,"a":"G","b":"G","c":"O","d":"T","e":"T","f":"G"},
{"x":-0.65,"y":-1.06,"a":"G","b":"G","c":"O","d":"T","e":"T","f":"G"},
{"x":-0.59,"y":-1.06,"a":"G","b":"G","c":"O","d":"T","e":"T","f":"G"},
{"x":-1.24,"y":-1.16,"a":"G","b":"G","c":"O","d":"T","e":"T","f":"G"},
{"x":-1.07,"y":-1.16,"a":"G","b":"G","c":"O","d":"T","e":"T","f":"G"},
{"x":-0.96,"y":-1.14,"a":"G","b":"G","c":"O","d":"T","e":"T","f":"G"},
{"x":-0.8,"y":-1.13,"a":"G","b":"G","c":"O","d":"T","e":"T","f":"G"},
{"x":-0.6,"y":-1.15,"a":"G","b":"G","c":"O","d":"T","e":"T","f":"G"},
{"x":-0.36,"y":-1.12,"a":"G","b":"g","c":"o","d":"T","e":"T","f":"G"},
{"x":-1.18,"y":-1.24,"a":"G","b":"G","c":"O","d":"T","e":"T","f":"G"},
{"x":-1.0,"y":-1.22,"a":"G","b":"G","c":"O","d":"T","e":"T","f":"G"},
{"x":-0.96,"y":-1.21,"a":"G","b":"G","c":"O","d":"T","e":"T","f":"G"},
{"x":-0.84,"y":-1.2,"a":"G","b":"G","c":"O","d":"T","e":"T","f":"G"},
{"x":-0.75,"y":-1.2,"a":"G","b":"G","c":"O","d":"T","e":"T","f":"G"},
{"x":-0.41,"y":-1.18,"a":"G","b":"g","c":"o","d":"T","e":"T","f":"G"},
{"x":-0.65,"y":-1.25,"a":"G","b":"G","c":"o","d":"T","e":"T","f":"G"},
{"x":-0.25,"y":-1.24,"a":"G","b":"k","c":"k","d":"T","e":"t","f":"g"},
{"x":-0.12,"y":-1.25,"a":"g","b":"k","c":"k","d":"T","e":"T","f":"g"},
{"x":-0.33,"y":-1.28,"a":"g","b":"k","c":"k","d":"T","e":"t","f":"g"},
{"x":-0.82,"y":-1.3,"a":"G","b":"G","c":"O","d":"T","e":"T","f":"G"},
{"x":-0.64,"y":-1.35,"a":"G","b":"g","c":"o","d":"T","e":"T","f":"G"},
{"x":-1.02,"y":-1.39,"a":"G","b":"g","c":"o","d":"T","e":"T","f":"G"},
{"x":-0.97,"y":-1.43,"a":"g","b":"g","c":"o","d":"T","e":"T","f":"g"},
{"x":-0.85,"y":-1.48,"a":"g","b":"g","c":"o","d":"T","e":"T","f":"g"},
{"x":-1.12,"y":-0.78,"a":"G","b":"G","c":"O","d":"T","e":"T","f":"G"},
{"x":-1.05,"y":-0.75,"a":"G","b":"G","c":"O","d":"T","e":"T","f":"G"},
{"x":-0.92,"y":-0.76,"a":"G","b":"G","c":"O","d":"T","e":"T","f":"G"},
{"x":-0.85,"y":-0.77,"a":"G","b":"G","c":"O","d":"T","e":"T","f":"G"},
{"x":-0.74,"y":-0.78,"a":"G","b":"G","c":"O","d":"T","e":"T","f":"G"},
{"x":-0.7,"y":-0.85,"a":"G","b":"G","c":"O","d":"T","e":"T","f":"G"},
{"x":-1.15,"y":-0.85,"a":"G","b":"G","c":"O","d":"T","e":"T","f":"G"},
{"x":-1.1,"y":-0.9,"a":"G","b":"G","c":"O","d":"T","e":"T","f":"G"},
{"x":-1.02,"y":-0.92,"a":"G","b":"G","c":"O","d":"T","e":"T","f":"G"},
{"x":-0.97,"y":-0.95,"a":"G","b":"G","c":"O","d":"T","e":"T","f":"G"},
{"x":-0.9,"y":-0.88,"a":"G","b":"G","c":"O","d":"T","e":"T","f":"G"},
{"x":-0.8,"y":-0.9,"a":"G","b":"G","c":"O","d":"T","e":"T","f":"G"},
{"x":-0.76,"y":-0.92,"a":"G","b":"G","c":"O","d":"T","e":"T","f":"G"},
{"x":-0.71,"y":-0.98,"a":"G","b":"G","c":"O","d":"T","e":"T","f":"G"},
{"x":-0.62,"y":-0.95,"a":"G","b":"G","c":"O","d":"T","e":"T","f":"G"},
{"x":-1.2,"y":-0.9,"a":"G","b":"G","c":"O","d":"T","e":"T","f":"G"},
{"x":-1.16,"y":-0.98,"a":"G","b":"G","c":"O","d":"T","e":"T","f":"G"},
{"x":-1.08,"y":-1.02,"a":"G","b":"G","c":"O","d":"T","e":"T","f":"G"},
{"x":-1.03,"y":-1.05,"a":"G","b":"G","c":"O","d":"T","e":"T","f":"G"},
{"x":-0.93,"y":-1.0,"a":"G","b":"G","c":"O","d":"T","e":"T","f":"G"},
{"x":-0.88,"y":-1.03,"a":"G","b":"G","c":"O","d":"T","e":"T","f":"G"},
{"x":-0.78,"y":-1.02,"a":"G","b":"G","c":"O","d":"T","e":"T","f":"G"},
{"x":-0.7,"y":-1.03,"a":"G","b":"G","c":"O","d":"T","e":"T","f":"G"},
{"x":-1.15,"y":-1.08,"a":"G","b":"G","c":"O","d":"T","e":"T","f":"G"},
{"x":-1.0,"y":-1.1,"a":"G","b":"G","c":"O","d":"T","e":"T","f":"G"},
{"x":-0.92,"y":-1.1,"a":"G","b":"G","c":"O","d":"T","e":"T","f":"G"},
{"x":-0.82,"y":-1.12,"a":"G","b":"G","c":"O","d":"T","e":"T","f":"G"},
{"x":-0.68,"y":-1.12,"a":"G","b":"G","c":"O","d":"T","e":"T","f":"G"},
{"x":-1.12,"y":-1.15,"a":"G","b":"G","c":"O","d":"T","e":"T","f":"G"},
{"x":-0.9,"y":-0.68,"a":"G","b":"G","c":"O","d":"T","e":"T","f":"G"},
{"x":-0.98,"y":-0.65,"a":"G","b":"G","c":"O","d":"T","e":"T","f":"G"},
{"x":-0.75,"y":-0.62,"a":"G","b":"G","c":"O","d":"T","e":"T","f":"G"},
{"x":0.95,"y":-0.09,"a":"T","b":"y","c":"k","d":"T","e":"T","f":"t"},
{"x":0.98,"y":-0.1,"a":"T","b":"y","c":"k","d":"T","e":"T","f":"t"},
{"x":1.03,"y":-0.12,"a":"T","b":"y","c":"k","d":"T","e":"T","f":"t"},
{"x":1.13,"y":-0.09,"a":"T","b":"y","c":"k","d":"T","e":"t","f":"t"},
{"x":1.03,"y":-0.19,"a":"T","b":"Y","c":"k","d":"T","e":"T","f":"T"},
{"x":0.6,"y":-0.17,"a":"t","b":"k","c":"k","d":"T","e":"t","f":"t"},
{"x":0.84,"y":-0.26,"a":"T","b":"y","c":"k","d":"T","e":"T","f":"T"},
{"x":1.14,"y":-0.28,"a":"T","b":"Y","c":"k","d":"T","e":"T","f":"T"},
{"x":1.13,"y":-0.31,"a":"T","b":"Y","c":"k","d":"T","e":"T","f":"T"},
{"x":1.25,"y":-0.32,"a":"T","b":"y","c":"k","d":"T","e":"T","f":"T"},
{"x":1.35,"y":-0.33,"a":"T","b":"y","c":"k","d":"T","e":"T","f":"T"},
{"x":1.34,"y":-0.35,"a":"T","b":"y","c":"k","d":"T","e":"T","f":"T"},
{"x":0.72,"y":-0.33,"a":"T","b":"k","c":"k","d":"T","e":"T","f":"t"},
{"x":0.79,"y":-0.36,"a":"T","b":"y","c":"e","d":"T","e":"T","f":"T"},
{"x":0.56,"y":-0.36,"a":"T","b":"k","c":"k","d":"T","e":"T","f":"t"},
{"x":0.49,"y":-0.39,"a":"T","b":"k","c":"k","d":"T","e":"T","f":"t"},
{"x":0.98,"y":-0.36,"a":"T","b":"Y","c":"e","d":"T","e":"T","f":"T"},
{"x":1.04,"y":-0.36,"a":"T","b":"Y","c":"e","d":"T","e":"T","f":"T"},
{"x":1.07,"y":-0.4,"a":"T","b":"Y","c":"e","d":"T","e":"T","f":"T"},
{"x":0.94,"y":-0.41,"a":"T","b":"Y","c":"e","d":"T","e":"T","f":"T"},
{"x":1.16,"y":-0.4,"a":"T","b":"y","c":"e","d":"T","e":"T","f":"T"},
{"x":0.59,"y":-0.42,"a":"T","b":"k","c":"k","d":"T","e":"T","f":"t"},
{"x":0.41,"y":-0.45,"a":"T","b":"k","c":"k","d":"T","e":"T","f":"t"},
{"x":1.22,"y":-0.43,"a":"T","b":"Y","c":"e","d":"T","e":"T","f":"T"},
{"x":0.58,"y":-0.48,"a":"T","b":"k","c":"k","d":"T","e":"T","f":"t"},
{"x":0.93,"y":-0.49,"a":"T","b":"Y","c":"E","d":"T","e":"T","f":"T"},
{"x":1.0,"y":-0.45,"a":"T","b":"Y","c":"e","d":"T","e":"T","f":"T"},
{"x":0.78,"y":-0.51,"a":"T","b":"y","c":"e","d":"T","e":"T","f":"T"},
{"x":1.22,"y":-0.53,"a":"T","b":"Y","c":"e","d":"T","e":"T","f":"T"},
{"x":1.0,"y":-0.54,"a":"T","b":"Y","c":"E","d":"T","e":"T","f":"T"},
{"x":1.09,"y":-0.55,"a":"T","b":"Y","c":"E","d":"T","e":"T","f":"T"},
{"x":1.5,"y":-0.49,"a":"T","b":"Y","c":"E","d":"T","e":"T","f":"T"},
{"x":1.53,"y":-0.52,"a":"T","b":"Y","c":"E","d":"T","e":"T","f":"T"},
{"x":1.48,"y":-0.54,"a":"T","b":"Y","c":"E","d":"T","e":"T","f":"T"},
{"x":1.42,"y":-0.56,"a":"T","b":"Y","c":"E","d":"T","e":"T","f":"T"},
{"x":1.97,"y":-0.51,"a":"t","b":"k","c":"k","d":"T","e":"t","f":"t"},
{"x":0.4,"y":-0.58,"a":"T","b":"k","c":"k","d":"T","e":"T","f":"T"},
{"x":0.89,"y":-0.58,"a":"T","b":"Y","c":"E","d":"T","e":"T","f":"T"},
{"x":1.15,"y":-0.61,"a":"T","b":"Y","c":"E","d":"T","e":"T","f":"T"},
{"x":1.34,"y":-0.6,"a":"T","b":"Y","c":"E","d":"T","e":"T","f":"T"},
{"x":1.38,"y":-0.62,"a":"T","b":"Y","c":"E","d":"T","e":"T","f":"T"},
{"x":1.68,"y":-0.58,"a":"T","b":"Y","c":"e","d":"T","e":"T","f":"T"},
{"x":1.86,"y":-0.57,"a":"T","b":"y","c":"k","d":"T","e":"T","f":"t"},
{"x":1.49,"y":-0.64,"a":"T","b":"Y","c":"E","d":"T","e":"T","f":"T"},
{"x":1.66,"y":-0.64,"a":"T","b":"Y","c":"e","d":"T","e":"T","f":"T"},
{"x":1.01,"y":-0.63,"a":"T","b":"Y","c":"E","d":"T","e":"T","f":"T"},
{"x":0.54,"y":-0.64,"a":"T","b":"y","c":"k","d":"T","e":"T","f":"T"},
{"x":1.06,"y":-0.68,"a":"T","b":"Y","c":"E","d":"T","e":"T","f":"T"},
{"x":0.99,"y":-0.7,"a":"T","b":"Y","c":"E","d":"T","e":"T","f":"T"},
{"x":1.21,"y":-0.68,"a":"T","b":"Y","c":"E","d":"T","e":"T","f":"T"},
{"x":1.76,"y":-0.68,"a":"T","b":"y","c":"k","d":"T","e":"T","f":"T"},
{"x":2.0,"y":-0.67,"a":"T","b":"k","c":"k","d":"T","e":"t","f":"t"},
{"x":0.6,"y":-0.7,"a":"T","b":"y","c":"k","d":"T","e":"T","f":"T"},
{"x":0.78,"y":-0.7,"a":"T","b":"y","c":"e","d":"T","e":"T","f":"T"},
{"x":0.86,"y":-0.72,"a":"T","b":"Y","c":"E","d":"T","e":"T","f":"T"},
{"x":0.92,"y":-0.75,"a":"T","b":"Y","c":"E","d":"T","e":"T","f":"T"},
{"x":0.35,"y":-0.72,"a":"T","b":"k","c":"k","d":"T","e":"T","f":"T"},
{"x":0.41,"y":-0.73,"a":"T","b":"y","c":"k","d":"T","e":"T","f":"T"},
{"x":1.21,"y":-0.73,"a":"T","b":"Y","c":"E","d":"T","e":"T","f":"T"},
{"x":1.59,"y":-0.72,"a":"T","b":"Y","c":"e","d":"T","e":"T","f":"T"},
{"x":1.9,"y":-0.7,"a":"T","b":"k","c":"k","d":"T","e":"T","f":"t"},
{"x":1.92,"y":-0.74,"a":"T","b":"k","c":"k","d":"T","e":"T","f":"t"},
{"x":1.15,"y":-0.77,"a":"T","b":"Y","c":"E","d":"T","e":"T","f":"T"},
{"x":1.36,"y":-0.77,"a":"T","b":"Y","c":"E","d":"T","e":"T","f":"T"},
{"x":1.47,"y":-0.78,"a":"T","b":"Y","c":"e","d":"T","e":"T","f":"T"},
{"x":1.53,"y":-0.81,"a":"T","b":"Y","c":"e","d":"T","e":"T","f":"T"},
{"x":0.56,"y":-0.8,"a":"T","b":"Y","c":"k","d":"T","e":"T","f":"T"},
{"x":0.42,"y":-0.81,"a":"T","b":"y","c":"k","d":"T","e":"T","f":"T"},
{"x":0.85,"y":-0.77,"a":"T","b":"Y","c":"e","d":"T","e":"T","f":"T"},
{"x":0.94,"y":-0.83,"a":"T","b":"Y","c":"E","d":"T","e":"T","f":"T"},
{"x":1.01,"y":-0.83,"a":"T","b":"Y","c":"E","d":"T","e":"T","f":"T"},
{"x":1.03,"y":-0.81,"a":"T","b":"Y","c":"E","d":"T","e":"T","f":"T"},
{"x":1.24,"y":-0.81,"a":"T","b":"Y","c":"e","d":"T","e":"T","f":"T"},
{"x":1.75,"y":-0.81,"a":"T","b":"y","c":"k","d":"T","e":"T","f":"T"},
{"x":0.62,"y":-0.85,"a":"T","b":"y","c":"k","d":"T","e":"T","f":"T"},
{"x":0.6,"y":-0.85,"a":"T","b":"y","c":"k","d":"T","e":"T","f":"T"},
{"x":0.68,"y":-0.9,"a":"T","b":"Y","c":"e","d":"T","e":"T","f":"T"},
{"x":0.18,"y":-0.86,"a":"t","b":"k","c":"k","d":"T","e":"T","f":"t"},
{"x":1.31,"y":-0.86,"a":"T","b":"Y","c":"e","d":"T","e":"T","f":"T"},
{"x":0.93,"y":-0.88,"a":"T","b":"Y","c":"E","d":"T","e":"T","f":"T"},
{"x":0.65,"y":-0.92,"a":"T","b":"Y","c":"e","d":"T","e":"T","f":"T"},
{"x":1.02,"y":-0.93,"a":"T","b":"Y","c":"e","d":"T","e":"T","f":"T"},
{"x":1.69,"y":-0.89,"a":"T","b":"y","c":"k","d":"T","e":"T","f":"T"},
{"x":0.22,"y":-0.94,"a":"t","b":"k","c":"k","d":"T","e":"T","f":"T"},
{"x":1.36,"y":-0.96,"a":"T","b":"Y","c":"e","d":"T","e":"T","f":"T"},
{"x":0.78,"y":-0.96,"a":"T","b":"Y","c":"e","d":"T","e":"T","f":"T"},
{"x":1.08,"y":-0.96,"a":"T","b":"Y","c":"e","d":"T","e":"T","f":"T"},
{"x":1.46,"y":-0.96,"a":"T","b":"Y","c":"k","d":"T","e":"T","f":"T"},
{"x":2.01,"y":-0.92,"a":"t","b":"k","c":"k","d":"T","e":"T","f":"t"},
{"x":1.56,"y":-0.96,"a":"T","b":"y","c":"k","d":"T","e":"T","f":"T"},
{"x":1.64,"y":-0.98,"a":"T","b":"y","c":"k","d":"T","e":"T","f":"T"},
{"x":1.69,"y":-0.98,"a":"T","b":"k","c":"k","d":"T","e":"T","f":"T"},
{"x":1.87,"y":-0.98,"a":"T","b":"k","c":"k","d":"T","e":"T","f":"t"},
{"x":0.33,"y":-1.0,"a":"T","b":"y","c":"k","d":"T","e":"T","f":"T"},
{"x":0.39,"y":-1.0,"a":"T","b":"y","c":"k","d":"T","e":"T","f":"T"},
{"x":0.74,"y":-1.02,"a":"T","b":"Y","c":"e","d":"T","e":"T","f":"T"},
{"x":1.02,"y":-1.0,"a":"T","b":"Y","c":"k","d":"T","e":"T","f":"T"},
{"x":1.43,"y":-1.02,"a":"T","b":"Y","c":"t","d":"T","e":"T","f":"T"},
{"x":0.54,"y":-1.04,"a":"T","b":"Y","c":"e","d":"T","e":"T","f":"T"},
{"x":0.86,"y":-1.05,"a":"T","b":"Y","c":"e","d":"T","e":"T","f":"T"},
{"x":0.8,"y":-1.04,"a":"T","b":"Y","c":"E","d":"T","e":"T","f":"T"},
{"x":1.06,"y":-1.04,"a":"T","b":"Y","c":"k","d":"T","e":"T","f":"T"},
{"x":1.34,"y":-1.05,"a":"T","b":"Y","c":"t","d":"T","e":"T","f":"T"},
{"x":1.2,"y":-1.06,"a":"T","b":"Y","c":"T","d":"T","e":"T","f":"T"},
{"x":1.24,"y":-1.05,"a":"T","b":"Y","c":"T","d":"T","e":"T","f":"T"},
{"x":0.49,"y":-1.09,"a":"T","b":"Y","c":"e","d":"T","e":"T","f":"T"},
{"x":0.52,"y":-1.11,"a":"T","b":"Y","c":"E","d":"T","e":"T","f":"T"},
{"x":0.63,"y":-1.09,"a":"T","b":"Y","c":"E","d":"T","e":"T","f":"T"},
{"x":1.36,"y":-1.09,"a":"T","b":"Y","c":"t","d":"T","e":"T","f":"T"},
{"x":1.47,"y":-1.1,"a":"T","b":"Y","c":"k","d":"T","e":"T","f":"T"},
{"x":-0.01,"y":-1.11,"a":"t","b":"k","c":"k","d":"T","e":"t","f":"t"},
{"x":1.98,"y":-1.08,"a":"t","b":"k","c":"k","d":"T","e":"T","f":"t"},
{"x":0.61,"y":-1.13,"a":"T","b":"Y","c":"E","d":"T","e":"T","f":"T"},
{"x":1.05,"y":-1.1,"a":"T","b":"Y","c":"k","d":"T","e":"T","f":"T"},
{"x":0.38,"y":-1.15,"a":"T","b":"Y","c":"k","d":"T","e":"T","f":"T"},
{"x":0.15,"y":-1.13,"a":"T","b":"y","c":"k","d":"T","e":"T","f":"T"},
{"x":0.2,"y":-1.16,"a":"T","b":"y","c":"k","d":"T","e":"T","f":"T"},
{"x":0.78,"y":-1.15,"a":"T","b":"Y","c":"E","d":"T","e":"T","f":"T"},
{"x":1.14,"y":-1.14,"a":"T","b":"Y","c":"t","d":"T","e":"T","f":"T"},
{"x":1.57,"y":-1.15,"a":"T","b":"y","c":"k","d":"T","e":"T","f":"t"},
{"x":0.84,"y":-1.17,"a":"T","b":"Y","c":"e","d":"T","e":"T","f":"T"},
{"x":1.21,"y":-1.17,"a":"T","b":"Y","c":"T","d":"T","e":"T","f":"T"},
{"x":0.1,"y":-1.18,"a":"T","b":"y","c":"k","d":"T","e":"T","f":"T"},
{"x":1.87,"y":-1.17,"a":"T","b":"k","c":"k","d":"T","e":"t","f":"t"},
{"x":0.26,"y":-1.19,"a":"T","b":"y","c":"k","d":"T","e":"T","f":"T"},
{"x":0.89,"y":-1.19,"a":"T","b":"Y","c":"e","d":"T","e":"T","f":"T"},
{"x":0.95,"y":-1.22,"a":"T","b":"Y","c":"e","d":"T","e":"T","f":"T"},
{"x":1.15,"y":-1.19,"a":"T","b":"Y","c":"t","d":"T","e":"T","f":"T"},
{"x":1.26,"y":-1.2,"a":"T","b":"Y","c":"T","d":"T","e":"T","f":"T"},
{"x":0.76,"y":-1.23,"a":"T","b":"Y","c":"E","d":"T","e":"T","f":"T"},
{"x":0.69,"y":-1.21,"a":"T","b":"Y","c":"E","d":"T","e":"T","f":"T"},
{"x":0.67,"y":-1.25,"a":"T","b":"Y","c":"E","d":"T","e":"T","f":"T"},
{"x":1.19,"y":-1.26,"a":"T","b":"Y","c":"t","d":"T","e":"T","f":"T"},
{"x":0.26,"y":-1.26,"a":"T","b":"Y","c":"k","d":"T","e":"T","f":"T"},
{"x":1.36,"y":-1.28,"a":"T","b":"Y","c":"t","d":"T","e":"T","f":"T"},
{"x":1.85,"y":-1.29,"a":"T","b":"k","c":"k","d":"T","e":"t","f":"k"},
{"x":1.89,"y":-1.3,"a":"T","b":"k","c":"k","d":"T","e":"t","f":"k"},
{"x":1.94,"y":-1.29,"a":"t","b":"k","c":"k","d":"T","e":"t","f":"k"},
{"x":0.88,"y":-1.28,"a":"T","b":"Y","c":"e","d":"T","e":"T","f":"T"},
{"x":0.5,"y":-1.3,"a":"T","b":"Y","c":"e","d":"T","e":"T","f":"T"},
{"x":1.42,"y":-1.34,"a":"T","b":"y","c":"t","d":"T","e":"T","f":"T"},
{"x":0.59,"y":-1.32,"a":"T","b":"Y","c":"e","d":"T","e":"T","f":"T"},
{"x":0.44,"y":-1.33,"a":"T","b":"Y","c":"k","d":"T","e":"T","f":"T"},
{"x":0.39,"y":-1.35,"a":"T","b":"Y","c":"k","d":"T","e":"T","f":"T"},
{"x":0.25,"y":-1.32,"a":"T","b":"Y","c":"k","d":"T","e":"T","f":"T"},
{"x":0.9,"y":-1.33,"a":"T","b":"Y","c":"e","d":"T","e":"T","f":"T"},
{"x":0.86,"y":-1.37,"a":"T","b":"Y","c":"e","d":"T","e":"T","f":"T"},
{"x":0.97,"y":-1.38,"a":"T","b":"Y","c":"k","d":"T","e":"T","f":"T"},
{"x":1.18,"y":-1.37,"a":"T","b":"y","c":"t","d":"T","e":"T","f":"T"},
{"x":1.26,"y":-1.4,"a":"T","b":"Y","c":"t","d":"T","e":"T","f":"T"},
{"x":1.25,"y":-1.42,"a":"T","b":"y","c":"k","d":"T","e":"T","f":"T"},
{"x":0.26,"y":-1.4,"a":"T","b":"Y","c":"k","d":"T","e":"T","f":"T"},
{"x":0.25,"y":-1.43,"a":"T","b":"y","c":"k","d":"T","e":"T","f":"T"},
{"x":0.03,"y":-1.43,"a":"t","b":"k","c":"k","d":"T","e":"T","f":"t"},
{"x":0.55,"y":-1.44,"a":"T","b":"Y","c":"k","d":"T","e":"T","f":"T"},
{"x":0.62,"y":-1.44,"a":"T","b":"y","c":"e","d":"T","e":"T","f":"T"},
{"x":0.5,"y":-1.47,"a":"T","b":"Y","c":"k","d":"T","e":"T","f":"T"},
{"x":1.0,"y":-1.46,"a":"T","b":"y","c":"k","d":"T","e":"T","f":"T"},
{"x":0.18,"y":-1.5,"a":"T","b":"y","c":"k","d":"T","e":"T","f":"t"},
{"x":0.42,"y":-1.49,"a":"T","b":"y","c":"k","d":"T","e":"T","f":"T"},
{"x":1.01,"y":-1.51,"a":"T","b":"y","c":"k","d":"T","e":"T","f":"T"},
{"x":0.67,"y":-1.52,"a":"T","b":"y","c":"k","d":"T","e":"T","f":"T"},
{"x":1.38,"y":-1.49,"a":"T","b":"y","c":"k","d":"T","e":"t","f":"t"},
{"x":1.82,"y":-1.48,"a":"t","b":"k","c":"k","d":"T","e":"k","f":"k"},
{"x":0.84,"y":-1.53,"a":"T","b":"k","c":"k","d":"T","e":"T","f":"T"},
{"x":0.29,"y":-1.56,"a":"T","b":"y","c":"k","d":"T","e":"T","f":"t"},
{"x":0.97,"y":-1.6,"a":"T","b":"k","c":"k","d":"T","e":"T","f":"T"},
{"x":0.24,"y":-1.61,"a":"T","b":"k","c":"k","d":"T","e":"T","f":"t"},
{"x":0.38,"y":-1.62,"a":"T","b":"y","c":"k","d":"T","e":"T","f":"t"},
{"x":0.85,"y":-1.6,"a":"T","b":"k","c":"k","d":"T","e":"T","f":"T"},
{"x":0.8,"y":-1.63,"a":"T","b":"k","c":"k","d":"T","e":"T","f":"T"},
{"x":0.87,"y":-1.65,"a":"T","b":"k","c":"k","d":"T","e":"T","f":"T"},
{"x":1.32,"y":-1.64,"a":"t","b":"k","c":"k","d":"T","e":"t","f":"t"},
{"x":1.02,"y":-1.73,"a":"T","b":"k","c":"k","d":"T","e":"T","f":"t"},
{"x":1.13,"y":-1.79,"a":"T","b":"k","c":"k","d":"T","e":"t","f":"t"},
{"x":0.61,"y":-1.76,"a":"t","b":"k","c":"k","d":"T","e":"t","f":"t"},
{"x":0.7,"y":-1.76,"a":"T","b":"k","c":"k","d":"T","e":"T","f":"t"},
{"x":1.22,"y":-1.8,"a":"t","b":"k","c":"k","d":"T","e":"t","f":"k"},
{"x":0.71,"y":-1.89,"a":"t","b":"k","c":"k","d":"T","e":"t","f":"t"},
{"x":0.98,"y":-1.87,"a":"T","b":"k","c":"k","d":"T","e":"T","f":"t"},
{"x":0.96,"y":-1.88,"a":"t","b":"k","c":"k","d":"T","e":"T","f":"t"}
]},
"columns":3,"bounds":"flush","spacing":{"row":99.5,"column":83},
"concat":[
{"title":"ε = 0.2  m = 5, 聚类数目：4","width":546,"height":435,"data":{"name":"pts"},"mark":"point","encoding":{"x":{"field":"x","type":"quantitative","scale":{"domain":[-2.418,3.307],"nice":false,"zero":false},"axis":{"values":[-2,-1,0,1,2,3]}},"y":{"field":"y","type":"quantitative","scale":{"domain":[-2.584,2.548],"nice":false,"zero":false},"axis":{"values":[-2,-1,0,1,2]}},"color":{"field":"a","type":"nominal","scale":{"domain":["k","Y","y","R","r","G","g","T","t","L","l","P","p","O","o","E","e"],"range":["#000000","#fee08b","#fee08b","#f46d43","#f46d43","#e6f598","#e6f598","#66c2a5","#66c2a5","#c7e89b","#c7e89b","#ffffbf","#ffffbf","#fdae61","#fdae61","#e8553f","#e8553f"]},"legend":null},"size":{"field":"a","type":"nominal","scale":{"type":"ordinal","domain":["k","Y","y","R","r","G","g","T","t","L","l","P","p","O","o","E","e"],"range":[20,64,26,64,26,64,26,64,26,64,26,64,26,64,26,64,26]},"legend":null}}},
{"title":"ε = 0.2  m = 10, 聚类数目：4","width":546,"height":435,"data":{"name":"pts"},"mark":"point","encoding":{"x":{"field":"x","type":"quantitative","scale":{"domain":[-2.418,3.307],"nice":false,"zero":false},"axis":{"values":[-2,-1,0,1,2,3]}},"y":{"field":"y","type":"quantitative","scale":{"domain":[-2.584,2.548],"nice":false,"zero":false},"axis":{"values":[-2,-1,0,1,2]}},"color":{"field":"b","type":"nominal","scale":{"domain":["k","Y","y","R","r","G","g","T","t","L","l","P","p","O","o","E","e"],"range":["#000000","#fee08b","#fee08b","#f46d43","#f46d43","#e6f598","#e6f598","#66c2a5","#66c2a5","#c7e89b","#c7e89b","#ffffbf","#ffffbf","#fdae61","#fdae61","#e8553f","#e8553f"]},"legend":null},"size":{"field":"b","type":"nominal","scale":{"type":"ordinal","domain":["k","Y","y","R","r","G","g","T","t","L","l","P","p","O","o","E","e"],"range":[20,64,26,64,26,64,26,64,26,64,26,64,26,64,26,64,26]},"legend":null}}},
{"title":"ε = 0.2  m = 15, 聚类数目：5","width":546,"height":435,"data":{"name":"pts"},"mark":"point","encoding":{"x":{"field":"x","type":"quantitative","scale":{"domain":[-2.418,3.307],"nice":false,"zero":false},"axis":{"values":[-2,-1,0,1,2,3]}},"y":{"field":"y","type":"quantitative","scale":{"domain":[-2.584,2.548],"nice":false,"zero":false},"axis":{"values":[-2,-1,0,1,2]}},"color":{"field":"c","type":"nominal","scale":{"domain":["k","Y","y","R","r","G","g","T","t","L","l","P","p","O","o","E","e"],"range":["#000000","#fee08b","#fee08b","#f46d43","#f46d43","#e6f598","#e6f598","#66c2a5","#66c2a5","#c7e89b","#c7e89b","#ffffbf","#ffffbf","#fdae61","#fdae61","#e8553f","#e8553f"]},"legend":null},"size":{"field":"c","type":"nominal","scale":{"type":"ordinal","domain":["k","Y","y","R","r","G","g","T","t","L","l","P","p","O","o","E","e"],"range":[20,64,26,64,26,64,26,64,26,64,26,64,26,64,26,64,26]},"legend":null}}},
{"title":"ε = 0.3  m = 5, 聚类数目：1","width":546,"height":435,"data":{"name":"pts"},"mark":"point","encoding":{"x":{"field":"x","type":"quantitative","scale":{"domain":[-2.418,3.307],"nice":false,"zero":false},"axis":{"values":[-2,-1,0,1,2,3]}},"y":{"field":"y","type":"quantitative","scale":{"domain":[-2.584,2.548],"nice":false,"zero":false},"axis":{"values":[-2,-1,0,1,2]}},"color":{"field":"d","type":"nominal","scale":{"domain":["k","Y","y","R","r","G","g","T","t","L","l","P","p","O","o","E","e"],"range":["#000000","#fee08b","#fee08b","#f46d43","#f46d43","#e6f598","#e6f598","#66c2a5","#66c2a5","#c7e89b","#c7e89b","#ffffbf","#ffffbf","#fdae61","#fdae61","#e8553f","#e8553f"]},"legend":null},"size":{"field":"d","type":"nominal","scale":{"type":"ordinal","domain":["k","Y","y","R","r","G","g","T","t","L","l","P","p","O","o","E","e"],"range":[20,64,26,64,26,64,26,64,26,64,26,64,26,64,26,64,26]},"legend":null}}},
{"title":"ε = 0.3  m = 10, 聚类数目：2","width":546,"height":435,"data":{"name":"pts"},"mark":"point","encoding":{"x":{"field":"x","type":"quantitative","scale":{"domain":[-2.418,3.307],"nice":false,"zero":false},"axis":{"values":[-2,-1,0,1,2,3]}},"y":{"field":"y","type":"quantitative","scale":{"domain":[-2.584,2.548],"nice":false,"zero":false},"axis":{"values":[-2,-1,0,1,2]}},"color":{"field":"e","type":"nominal","scale":{"domain":["k","Y","y","R","r","G","g","T","t","L","l","P","p","O","o","E","e"],"range":["#000000","#fee08b","#fee08b","#f46d43","#f46d43","#e6f598","#e6f598","#66c2a5","#66c2a5","#c7e89b","#c7e89b","#ffffbf","#ffffbf","#fdae61","#fdae61","#e8553f","#e8553f"]},"legend":null},"size":{"field":"e","type":"nominal","scale":{"type":"ordinal","domain":["k","Y","y","R","r","G","g","T","t","L","l","P","p","O","o","E","e"],"range":[20,64,26,64,26,64,26,64,26,64,26,64,26,64,26,64,26]},"legend":null}}},
{"title":"ε = 0.3  m = 15, 聚类数目：4","width":546,"height":435,"data":{"name":"pts"},"mark":"point","encoding":{"x":{"field":"x","type":"quantitative","scale":{"domain":[-2.418,3.307],"nice":false,"zero":false},"axis":{"values":[-2,-1,0,1,2,3]}},"y":{"field":"y","type":"quantitative","scale":{"domain":[-2.584,2.548],"nice":false,"zero":false},"axis":{"values":[-2,-1,0,1,2]}},"color":{"field":"f","type":"nominal","scale":{"domain":["k","Y","y","R","r","G","g","T","t","L","l","P","p","O","o","E","e"],"range":["#000000","#fee08b","#fee08b","#f46d43","#f46d43","#e6f598","#e6f598","#66c2a5","#66c2a5","#c7e89b","#c7e89b","#ffffbf","#ffffbf","#fdae61","#fdae61","#e8553f","#e8553f"]},"legend":null},"size":{"field":"f","type":"nominal","scale":{"type":"ordinal","domain":["k","Y","y","R","r","G","g","T","t","L","l","P","p","O","o","E","e"],"range":[20,64,26,64,26,64,26,64,26,64,26,64,26,64,26,64,26]},"legend":null}}}
]}
